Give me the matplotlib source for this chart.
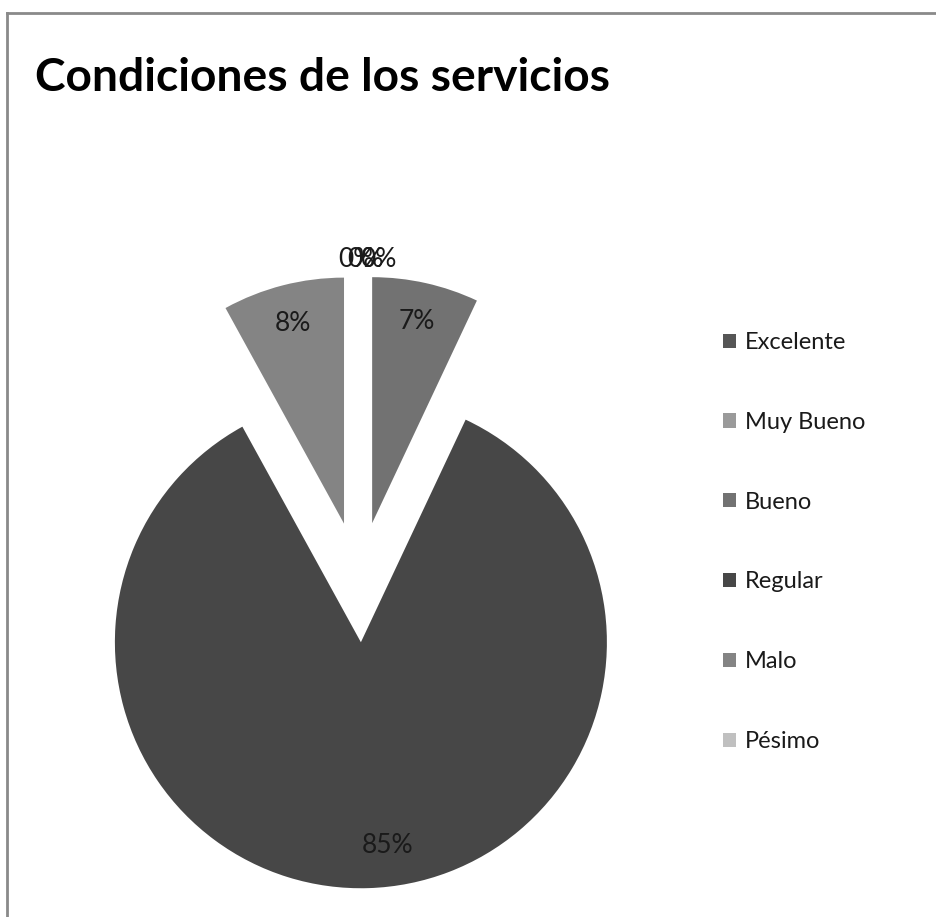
import matplotlib
matplotlib.use("Agg")
import matplotlib.pyplot as plt
from matplotlib.lines import Line2D
import numpy as np

categories = ["Excelente", "Muy Bueno", "Bueno", "Regular", "Malo", "Pésimo"]
values = [0, 0, 7, 85, 8, 0]
colors = ["#565656", "#9a9a9a", "#727272", "#474747", "#848484", "#c0c0c0"]
title = "Condiciones de los servicios"

W, H = 937, 917
fig = plt.figure(figsize=(W / 100, H / 100), dpi=100)
fig.patch.set_facecolor("white")

FONT = ["Lato", "DejaVu Sans"]

# pie axes: center at (359, 582) px from top-left, radius 246 px
R = 246.0
cx, cy = 359.0, 582.0
ax_w, ax_h = 600.0, 660.0
ax = fig.add_axes([(cx - ax_w / 2) / W, (H - cy - ax_h / 2) / H, ax_w / W, ax_h / H])

explode = [0.245] * len(values)
wedges, texts, autotexts = ax.pie(
    values, colors=colors, explode=explode, startangle=90, counterclock=False,
    autopct="%1.0f%%", pctdistance=0.84, radius=1.0,
    textprops=dict(fontsize=19, color="#1a1a1a", family=FONT),
    wedgeprops=dict(linewidth=0),
)
ax.set_aspect("auto")
ax.set_xlim(-ax_w / 2 / R, ax_w / 2 / R)
ax.set_ylim(-ax_h / 2 / R, ax_h / 2 / R)
ax.axis("off")

# adjust label positions like Excel's placement
zero_offsets = iter([-0.01, 0.025, 0.08])
for w, t, v in zip(wedges, autotexts, values):
    ang = np.deg2rad((w.theta1 + w.theta2) / 2)
    c = w.center
    if v == 0:
        x = c[0] + 1.065 * np.cos(ang) + next(zero_offsets)
        y = c[1] + 1.065 * np.sin(ang)
        t.set_position((x, y))
    elif v == max(values):
        x, y = t.get_position()
        t.set_position((x + 0.08, y + 0.015))

# legend
fs_leg = 17
fig.legend(wedges, categories, loc="center left",
           bbox_to_anchor=(723 / W, 1 - 542 / H), frameon=False,
           prop=dict(family=FONT, size=fs_leg),
           handlelength=0.55, handleheight=0.55, handletextpad=0.38,
           labelspacing=2.49, borderpad=0, borderaxespad=0,
           labelcolor="#1a1a1a")

# title
fig.text(35 / W, 1 - 78 / H, title, fontsize=33.2, fontweight="bold",
         family=FONT, color="black", ha="left", va="center")

# chart border (top and left)
fig.add_artist(Line2D([7 / W, 1.0], [1 - 13 / H, 1 - 13 / H], color="#8a8a8a", lw=2,
                      transform=fig.transFigure))
fig.add_artist(Line2D([7 / W, 7 / W], [0.0, 1 - 13 / H], color="#8a8a8a", lw=2,
                      transform=fig.transFigure))

fig.savefig("out.png", dpi=100, facecolor="white")
